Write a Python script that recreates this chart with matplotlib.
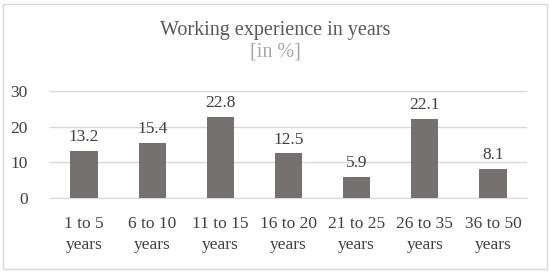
import matplotlib.pyplot as plt
from matplotlib.patches import Rectangle

# data
categories = ['1 to 5\nyears', '6 to 10\nyears', '11 to 15\nyears', '16 to 20\nyears',
              '21 to 25\nyears', '26 to 35\nyears', '36 to 50\nyears']
values = [13.2, 15.4, 22.8, 12.5, 5.9, 22.1, 8.1]
yticks = [0, 10, 20, 30]

plt.rcParams['font.family'] = ['Liberation Serif', 'DejaVu Serif']

fig = plt.figure(figsize=(5.5, 2.72), dpi=100)
ax = fig.add_axes([50 / 550, 1 - 198 / 272, 477 / 550, 107 / 272])

x = range(len(values))
ax.bar(x, values, width=0.4, color='#767171', zorder=3)
for xi, v in zip(x, values):
    ax.text(xi, v + 1.6, f'{v:.1f}', ha='center', va='bottom', fontsize=12.5, color='#404040')

ax.set_xlim(-0.5, len(values) - 0.5)
ax.set_ylim(0, 30)
ax.set_yticks(yticks)
ax.set_yticklabels([str(t) for t in yticks], fontsize=12.5, color='#404040')
ax.set_xticks(list(x))
ax.set_xticklabels(categories, fontsize=12.5, color='#404040', linespacing=1.45)
ax.tick_params(length=0, axis='y', pad=16)
ax.tick_params(length=0, axis='x', pad=13)
ax.grid(axis='y', color='#d9d9d9', linewidth=1, zorder=0)
for s in ['top', 'right', 'left']:
    ax.spines[s].set_visible(False)
ax.spines['bottom'].set_color('#d9d9d9')

fig.text(0.5, 1 - 31 / 272, 'Working experience in years', ha='center', va='center',
         fontsize=14.5, color='#595959')
fig.text(0.5, 1 - 52 / 272, '[in %]', ha='center', va='center', fontsize=14.5, color='#a6a6a6')

fig.patches.append(Rectangle((3 / 550, 3 / 272), 544 / 550, 265 / 272, transform=fig.transFigure,
                             fill=False, edgecolor='#d9d9d9', linewidth=1))

fig.savefig('out.png', dpi=100)
